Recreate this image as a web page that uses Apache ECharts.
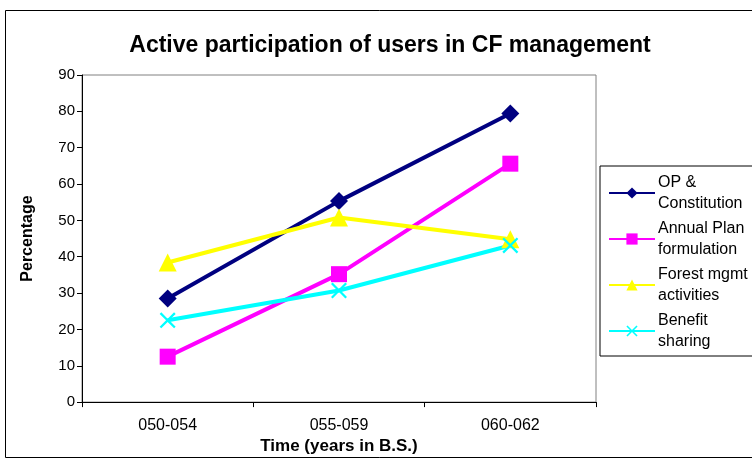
<!DOCTYPE html>
<html>
<head>
<meta charset="utf-8">
<script src="https://cdn.jsdelivr.net/npm/echarts@6/dist/echarts.min.js"></script>
<style>
  html, body { margin: 0; padding: 0; background: #fff; }
  #main { width: 752px; height: 460px; }
</style>
</head>
<body>
<div id="main"></div>
<script>
// 数据
var periods = ['050-054', '055-059', '060-062'];
var opConstitution = [28.5, 55.3, 79.4];
var annualPlan = [12.5, 35.2, 65.6];
var forestMgmt = [38.4, 50.8, 44.8];
var benefitSharing = [22.5, 30.7, 43.1];

var font = 'Arial, "Liberation Sans", sans-serif';
var crossPath = 'path://M0,1 L1,0 L5,4 L9,0 L10,1 L6,5 L10,9 L9,10 L5,6 L1,10 L0,9 L4,5 Z';

function lineSeries(name, data, color, symbol, size) {
    return {
        name: name,
        type: 'line',
        data: data,
        symbol: symbol,
        symbolSize: size,
        lineStyle: { color: color, width: 4 },
        itemStyle: { color: color },
        emphasis: { disabled: true }
    };
}

var myChart = echarts.init(document.getElementById('main'));
var option = {
    animation: false,
    title: {
        text: 'Active participation of users in CF management',
        left: 385,
        textAlign: 'center',
        top: 29,
        textStyle: { fontFamily: font, fontSize: 23, fontWeight: 'bold', color: '#000' }
    },
    graphic: [{
        type: 'rect',
        shape: { x: 5.5, y: 10.5, width: 800, height: 447 },
        style: { fill: 'none', stroke: '#000', lineWidth: 1 },
        z: -1
    }],
    legend: {
        orient: 'vertical',
        left: 600,
        top: 166,
        padding: [6, 4, 4, 8],
        itemWidth: 46,
        itemHeight: 14,
        itemGap: 4,
        borderColor: '#000',
        borderWidth: 1,
        textStyle: { fontFamily: font, fontSize: 16, color: '#000', lineHeight: 21, padding: [0, 20, 0, -2] },
        data: [
            { name: 'OP &\nConstitution' },
            { name: 'Annual Plan\nformulation' },
            { name: 'Forest mgmt\nactivities' },
            { name: 'Benefit\nsharing' }
        ]
    },
    grid: {
        left: 82,
        right: 156,
        top: 75,
        bottom: 57,
        show: true,
        borderColor: '#808080',
        borderWidth: 1
    },
    xAxis: {
        type: 'category',
        data: periods,
        name: 'Time (years in B.S.)',
        nameLocation: 'middle',
        nameGap: 33,
        nameTextStyle: { fontFamily: font, fontSize: 17, fontWeight: 'bold', color: '#000' },
        axisLine: { lineStyle: { color: '#000', width: 1 } },
        axisTick: { show: true, length: 5, lineStyle: { color: '#000' } },
        axisLabel: { fontFamily: font, fontSize: 16, color: '#000', margin: 15 }
    },
    yAxis: {
        type: 'value',
        min: 0,
        max: 90,
        interval: 10,
        name: 'Percentage',
        nameLocation: 'middle',
        nameGap: 46,
        nameTextStyle: { fontFamily: font, fontSize: 16, fontWeight: 'bold', color: '#000' },
        axisLine: { show: true, lineStyle: { color: '#000', width: 1 } },
        axisTick: { show: true, length: 5, lineStyle: { color: '#000' } },
        axisLabel: { fontFamily: font, fontSize: 15, color: '#000', margin: 7 },
        splitLine: { show: false }
    },
    series: [
        lineSeries('OP &\nConstitution', opConstitution, '#000080', 'diamond', 18),
        lineSeries('Annual Plan\nformulation', annualPlan, '#FF00FF', 'rect', 16),
        lineSeries('Forest mgmt\nactivities', forestMgmt, '#FFFF00', 'triangle', 18),
        lineSeries('Benefit\nsharing', benefitSharing, '#00FFFF', crossPath, 16)
    ]
};
myChart.setOption(option);
</script>
</body>
</html>
